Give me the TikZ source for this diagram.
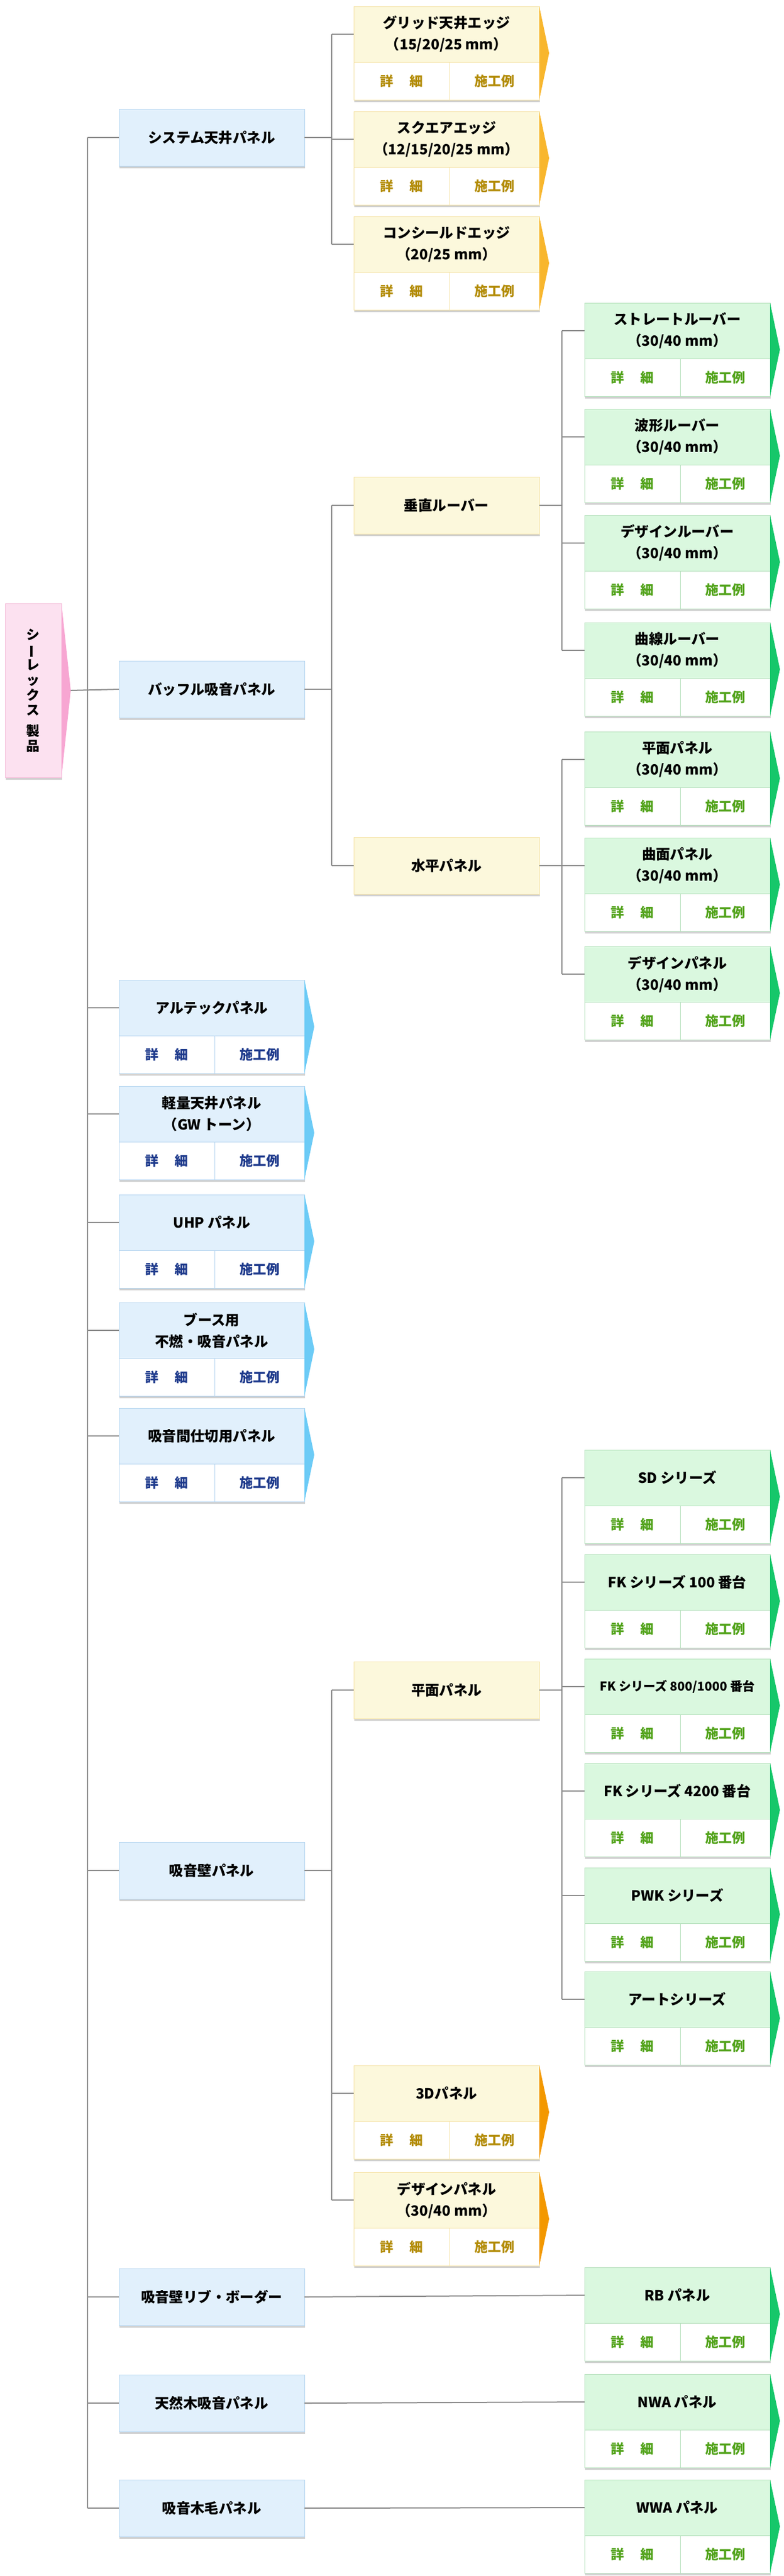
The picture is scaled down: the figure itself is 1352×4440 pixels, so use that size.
\documentclass[tikz,border=0pt]{standalone}
\usepackage{fontspec}
\setmainfont{Noto Sans CJK JP}
\usepackage{tikz}
\usetikzlibrary{positioning,calc,shadows}

\definecolor{linegray}{HTML}{8A8A8A}
\definecolor{pinkfill}{HTML}{FCE1F0}
\definecolor{pinkline}{HTML}{F3B9D7}
\definecolor{pinktip}{HTML}{F7A6D2}
\definecolor{bluefill}{HTML}{E1F0FC}
\definecolor{blueline}{HTML}{B7D6F0}
\definecolor{bluetext}{HTML}{1E3A8C}
\definecolor{bluetip}{HTML}{6CCBF6}
\definecolor{yellowfill}{HTML}{FCF8DC}
\definecolor{yellowline}{HTML}{F5E3A8}
\definecolor{yellowtext}{HTML}{B38C08}
\definecolor{goldtip}{HTML}{F8B62D}
\definecolor{orangetip}{HTML}{F39800}
\definecolor{greenfill}{HTML}{DAF8DF}
\definecolor{greenline}{HTML}{B5E0BC}
\definecolor{greentext}{HTML}{52A31B}
\definecolor{greentip}{HTML}{16C76A}

% card: name, colour, tip colour, x, y, title
\newcommand{\card}[6]{%
	\node[head=#2] (#1) at (#4,#5) {#6};
	\node[cell=#2, minimum width=82.5pt] (#1-d) at (#1.south west) {詳\hspace{14pt}細};
	\node[cell=#2, minimum width=77.5pt] (#1-w) at (#1-d.north east) {施工例};
	\fill[#3] (#1.north east) -- ($(#1.north east)!.5!(#1-w.south east)+(17,0)$) -- (#1-w.south east) -- cycle;
}

\begin{document}
\begin{tikzpicture}
	[x=0.5pt, y=-0.5pt,
	link/.style = {draw=linegray, line width=1pt},
	head/.style = {draw=#1line, line width=0.5pt, fill=#1fill, minimum width=160pt, minimum height=48pt, inner sep=0pt, outer sep=0pt, align=center, anchor=north west, font=\bfseries\fontsize{12.2}{18.5}\selectfont, drop shadow={shadow xshift=0.6pt, shadow yshift=-1.8pt, fill=black!18, opacity=1}},
	plain/.style = {head=#1, minimum height=49pt},
	cell/.style = {draw=#1line, line width=0.5pt, fill=white, text=#1text, minimum height=32.5pt, inner sep=0pt, outer sep=0pt, anchor=north west, font=\bfseries\fontsize{11.5}{14}\selectfont, drop shadow={shadow xshift=0.6pt, shadow yshift=-1.8pt, fill=black!18, opacity=1}}]
	\useasboundingbox (0,0) rectangle (1352,4440);
	\coordinate (busA) at (151,0);
	\coordinate (busB) at (572,0);
	\coordinate (busC) at (969,0);

	% root
	\node[draw=pinkline, line width=0.5pt, fill=pinkfill, minimum width=48.5pt, minimum height=150pt, inner sep=0pt, outer sep=0pt, anchor=north west, align=center, font=\bfseries\fontsize{11.5}{13}\selectfont, drop shadow={shadow xshift=0.6pt, shadow yshift=-1.8pt, fill=black!18, opacity=1}] (root) at (9,1040) {シ\\\rotatebox[origin=c]{90}{ー}\\レ\\ッ\\ク\\ス\\[5pt]製\\品};
	\fill[pinktip] (root.north east) -- ($(root.east)+(16,0)$) coordinate (roottip) -- (root.south east) -- cycle;

	% level 1
	\node[plain=blue] (sys) at (205,188) {システム天井パネル};
	\node[plain=blue] (baf) at (205,1139) {バッフル吸音パネル};
	\card{alt}{blue}{bluetip}{205}{1689}{アルテックパネル}
	\card{kei}{blue}{bluetip}{205}{1872}{軽量天井パネル\\（GW トーン）}
	\card{uhp}{blue}{bluetip}{205}{2059}{UHP パネル}
	\card{booth}{blue}{bluetip}{205}{2245}{ブース用\\不燃・吸音パネル}
	\card{part}{blue}{bluetip}{205}{2427}{吸音間仕切用パネル}
	\node[plain=blue] (wall) at (205,3175) {吸音壁パネル};
	\node[plain=blue] (rib) at (205,3910) {吸音壁リブ・ボーダー};
	\node[plain=blue] (nat) at (205,4093) {天然木吸音パネル};
	\node[plain=blue] (wool) at (205,4274) {吸音木毛パネル};

	% level 2
	\card{grid}{yellow}{goldtip}{610}{11}{グリッド天井エッジ\\（15/20/25 mm）}
	\card{sq}{yellow}{goldtip}{610}{192}{スクエアエッジ\\（12/15/20/25 mm）}
	\card{con}{yellow}{goldtip}{610}{373}{コンシールドエッジ\\（20/25 mm）}
	\node[plain=yellow] (vert) at (610,822) {垂直ルーバー};
	\node[plain=yellow] (horiz) at (610,1443) {水平パネル};
	\node[plain=yellow] (flat) at (610,2864) {平面パネル};
	\card{td}{yellow}{orangetip}{610}{3560}{3Dパネル}
	\card{des}{yellow}{orangetip}{610}{3744}{デザインパネル\\（30/40 mm）}

	% level 3
	\card{str}{green}{greentip}{1008}{522}{ストレートルーバー\\（30/40 mm）}
	\card{wave}{green}{greentip}{1008}{705}{波形ルーバー\\（30/40 mm）}
	\card{dlv}{green}{greentip}{1008}{888}{デザインルーバー\\（30/40 mm）}
	\card{curv}{green}{greentip}{1008}{1073}{曲線ルーバー\\（30/40 mm）}
	\card{hflat}{green}{greentip}{1008}{1261}{平面パネル\\（30/40 mm）}
	\card{hcurv}{green}{greentip}{1008}{1444}{曲面パネル\\（30/40 mm）}
	\card{hdes}{green}{greentip}{1008}{1631}{デザインパネル\\（30/40 mm）}
	\card{sd}{green}{greentip}{1008}{2499}{SD シリーズ}
	\card{fkA}{green}{greentip}{1008}{2679}{FK シリーズ 100 番台}
	\card{fkB}{green}{greentip}{1008}{2859}{{\fontsize{10.6}{14}\selectfont FK シリーズ 800/1000 番台}}
	\card{fkC}{green}{greentip}{1008}{3039}{FK シリーズ 4200 番台}
	\card{pwk}{green}{greentip}{1008}{3219}{PWK シリーズ}
	\card{art}{green}{greentip}{1008}{3398}{アートシリーズ}
	\card{rb}{green}{greentip}{1008}{3908}{RB パネル}
	\card{nwa}{green}{greentip}{1008}{4092}{NWA パネル}
	\card{wwa}{green}{greentip}{1008}{4274}{WWA パネル}

	% connectors
	\draw[link] (roottip) -- (baf.west);
	\draw[link] (sys.west -| busA) -- (wool.west -| busA);
	\foreach \n in {sys,alt,kei,uhp,booth,part,wall,rib,nat,wool}
		\draw[link] (\n.west -| busA) -- (\n.west);

	\draw[link] (sys.east) -- (sys.east -| busB);
	\draw[link] (grid.west -| busB) -- (con.west -| busB);
	\foreach \n in {grid,sq,con}
		\draw[link] (\n.west -| busB) -- (\n.west);

	\draw[link] (baf.east) -- (baf.east -| busB);
	\draw[link] (vert.west -| busB) -- (horiz.west -| busB);
	\foreach \n in {vert,horiz}
		\draw[link] (\n.west -| busB) -- (\n.west);

	\draw[link] (vert.east) -- (vert.east -| busC);
	\draw[link] (str.west -| busC) -- (curv.west -| busC);
	\foreach \n in {str,wave,dlv,curv}
		\draw[link] (\n.west -| busC) -- (\n.west);

	\draw[link] (horiz.east) -- (horiz.east -| busC);
	\draw[link] (hflat.west -| busC) -- (hdes.west -| busC);
	\foreach \n in {hflat,hcurv,hdes}
		\draw[link] (\n.west -| busC) -- (\n.west);

	\draw[link] (wall.east) -- (wall.east -| busB);
	\draw[link] (flat.west -| busB) -- (des.west -| busB);
	\foreach \n in {flat,td,des}
		\draw[link] (\n.west -| busB) -- (\n.west);

	\draw[link] (flat.east) -- (flat.east -| busC);
	\draw[link] (sd.west -| busC) -- (art.west -| busC);
	\foreach \n in {sd,fkA,fkB,fkC,pwk,art}
		\draw[link] (\n.west -| busC) -- (\n.west);

	\draw[link] (rib.east) -- (rb.west);
	\draw[link] (nat.east) -- (nwa.west);
	\draw[link] (wool.east) -- (wwa.west);
\end{tikzpicture}
\end{document}
